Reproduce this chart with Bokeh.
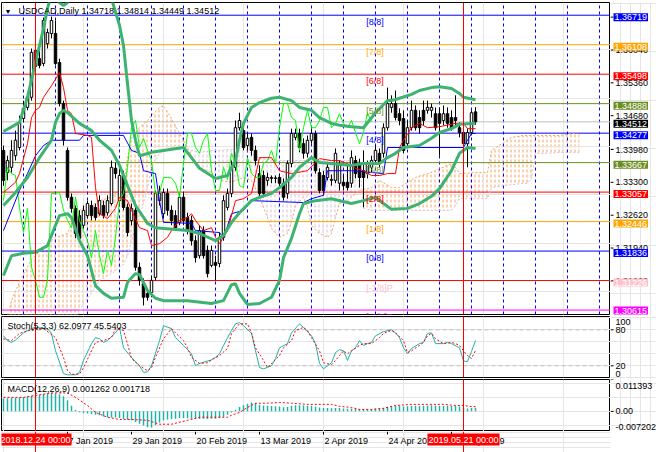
from bokeh.plotting import figure
from bokeh.layouts import column, row
from bokeh.models import Range1d, Span, Label, FixedTicker, Grid
from bokeh.embed import file_html
from bokeh.resources import INLINE

FONT = "Liberation Sans"
FS = "9px"

# ---------------- data ----------------
TITLE = "USDCAD,Daily  1.34718 1.34814 1.34449 1.34512"
STOCH_TITLE = "Stoch(5,3,3) 62.0977 45.5403"
MACD_TITLE = "MACD(12,26,9) 0.001262 0.001718"

opens = [1.3392,1.3346,1.3357,1.3381,1.3398,1.3458,1.3481,1.3502,1.3566,1.3582,
         1.3572,1.3613,1.3634,1.3634,1.3574,1.3489,1.3392,1.3295,1.3272,1.3257,
         1.3237,1.3257,1.3278,1.3274,1.3261,1.3278,1.3263,1.3282,1.3355,1.3288,
         1.3340,1.3274,1.3247,1.3268,1.3150,1.3116,1.3096,1.3098,1.3129,1.3288,
         1.3261,1.3303,1.3268,1.3257,1.3243,1.3295,1.3253,1.3247,1.3205,1.3174,
         1.3226,1.3185,1.3154,1.3160,1.3158,1.3212,1.3274,1.3303,1.3357,1.3439,
         1.3433,1.3402,1.3419,1.3392,1.3344,1.3340,1.3330,1.3334,1.3334,1.3336,
         1.3324,1.3303,1.3365,1.3419,1.3427,1.3406,1.3386,1.3413,1.3427,1.3346,
         1.3340,1.3336,1.3330,1.3330,1.3324,1.3326,1.3326,1.3324,1.3371,1.3365,
         1.3350,1.3344,1.3357,1.3371,1.3386,1.3386,1.3439,1.3481,1.3489,1.3468,
         1.3458,1.3406,1.3439,1.3475,1.3460,1.3475,1.3475,1.3475,1.3468,1.3468,
         1.3454,1.3468,1.3460,1.3460,1.3439,1.3429,1.3406,1.3429,1.34718]
highs = [1.3402,1.3381,1.3413,1.3433,1.3464,1.3495,1.3512,1.3603,1.3607,1.3599,
         1.3667,1.3644,1.3669,1.3661,1.3582,1.3495,1.3398,1.3303,1.3278,1.3268,
         1.3278,1.3288,1.3288,1.3282,1.3299,1.3288,1.3299,1.3371,1.3367,1.3355,
         1.3350,1.3282,1.3282,1.3278,1.3160,1.3127,1.3106,1.3133,1.3309,1.3319,
         1.3313,1.3313,1.3278,1.3268,1.3303,1.3305,1.3263,1.3257,1.3216,1.3237,
         1.3235,1.3195,1.3195,1.3174,1.3222,1.3299,1.3313,1.3371,1.3454,1.3470,
         1.3444,1.3427,1.3427,1.3402,1.3361,1.3350,1.3346,1.3340,1.3340,1.3344,
         1.3334,1.3371,1.3437,1.3437,1.3437,1.3417,1.3423,1.3437,1.3433,1.3355,
         1.3350,1.3367,1.3342,1.3396,1.3371,1.3340,1.3361,1.3392,1.3381,1.3375,
         1.3392,1.3371,1.3381,1.3402,1.3396,1.3448,1.3522,1.3506,1.3516,1.3479,
         1.3475,1.3454,1.3495,1.3485,1.3475,1.3495,1.3495,1.3489,1.3481,1.3481,
         1.3485,1.3481,1.3475,1.3506,1.3450,1.3439,1.3437,1.3475,1.34814]
lows = [1.3319,1.3330,1.3346,1.3371,1.3392,1.3450,1.3475,1.3495,1.3557,1.3562,
        1.3566,1.3603,1.3624,1.3568,1.3483,1.3402,1.3288,1.3263,1.3210,1.3201,
        1.3230,1.3251,1.3247,1.3247,1.3257,1.3251,1.3257,1.3278,1.3334,1.3278,
        1.3268,1.3214,1.3237,1.3143,1.3112,1.3071,1.3081,1.3088,1.3123,1.3278,
        1.3251,1.3257,1.3237,1.3226,1.3237,1.3237,1.3218,1.3195,1.3160,1.3168,
        1.3168,1.3129,1.3150,1.3123,1.3150,1.3205,1.3268,1.3295,1.3350,1.3433,
        1.3392,1.3392,1.3381,1.3361,1.3295,1.3295,1.3319,1.3324,1.3324,1.3315,
        1.3288,1.3292,1.3357,1.3413,1.3388,1.3375,1.3377,1.3406,1.3344,1.3303,
        1.3299,1.3330,1.3319,1.3324,1.3309,1.3309,1.3309,1.3315,1.3334,1.3315,
        1.3274,1.3334,1.3346,1.3365,1.3357,1.3377,1.3433,1.3470,1.3454,1.3444,
        1.3386,1.3398,1.3433,1.3433,1.3427,1.3444,1.3468,1.3460,1.3433,1.3381,
        1.3444,1.3439,1.3433,1.3444,1.3419,1.3400,1.3357,1.3423,1.34449]
closes = [1.3330,1.3371,1.3392,1.3413,1.3450,1.3479,1.3502,1.3595,1.3599,1.3568,
          1.3661,1.3636,1.3661,1.3572,1.3489,1.3413,1.3295,1.3272,1.3220,1.3210,
          1.3268,1.3282,1.3257,1.3253,1.3288,1.3257,1.3288,1.3357,1.3344,1.3340,
          1.3274,1.3222,1.3272,1.3150,1.3123,1.3088,1.3088,1.3123,1.3303,1.3303,
          1.3305,1.3268,1.3247,1.3232,1.3295,1.3247,1.3226,1.3205,1.3170,1.3226,
          1.3174,1.3137,1.3185,1.3154,1.3212,1.3288,1.3303,1.3357,1.3439,1.3454,
          1.3398,1.3417,1.3392,1.3371,1.3303,1.3303,1.3336,1.3336,1.3335,1.3324,
          1.3295,1.3365,1.3427,1.3427,1.3398,1.3386,1.3413,1.3427,1.3350,1.3309,
          1.3309,1.3357,1.3332,1.3386,1.3365,1.3319,1.3315,1.3377,1.3344,1.3336,
          1.3336,1.3365,1.3371,1.3392,1.3365,1.3439,1.3489,1.3489,1.3460,1.3454,
          1.3392,1.3439,1.3475,1.3439,1.3439,1.3454,1.3481,1.3481,1.3439,1.3448,
          1.3468,1.3448,1.3439,1.3454,1.3429,1.3406,1.3429,1.3470,1.34512]

# Bollinger bands (read at selected bars)
bb_up_idx = [0,4,6,8,10,11,12,14,15,16,18,22,25,27,29,30,31,32,33,34,37,45,47,49,53,56,58,59,60,62,
             64,67,69,72,74,77,79,82,84,87,90,93,95,96,98,99,102,104,107,109,112,114,115,118]
bb_up = [1.3431,1.3450,1.3502,1.3574,1.3644,1.3686,1.3715,1.3698,1.3692,1.3698,1.3727,1.3744,1.3727,1.3706,
         1.3651,1.3609,1.3530,1.3454,1.3413,1.3381,1.3388,1.3398,1.3377,1.3355,1.3334,1.3340,1.3371,1.3413,
         1.3448,1.3481,1.3491,1.3500,1.3502,1.3495,1.3481,1.3475,1.3460,1.3448,1.3444,1.3441,1.3439,1.3470,
         1.3487,1.3495,1.3497,1.3500,1.3508,1.3516,1.3522,1.3524,1.3520,1.3510,1.3502,1.3497]
bb_mid_idx = [0,3,6,9,12,13,14,15,16,19,22,24,27,29,31,33,36,38,46,49,53,55,57,59,62,64,67,69,72,74,
              77,79,82,87,90,94,96,98,100,104,107,109,112,114,118]
bb_mid = [1.3278,1.3305,1.3336,1.3377,1.3413,1.3450,1.3468,1.3475,1.3470,1.3448,1.3433,1.3413,1.3392,1.3361,
          1.3319,1.3278,1.3241,1.3232,1.3226,1.3220,1.3205,1.3216,1.3243,1.3263,1.3288,1.3295,1.3303,1.3315,
          1.3336,1.3357,1.3377,1.3367,1.3365,1.3361,1.3365,1.3365,1.3377,1.3386,1.3398,1.3402,1.3417,1.3429,
          1.3437,1.3446,1.3448]
bb_low_idx = [0,2,5,8,11,13,14,16,17,19,21,23,25,27,30,31,33,34,36,38,40,46,52,55,57,58,59,61,64,67,
              69,70,72,74,75,78,82,87,90,93,95,97,101,104,107,109,112,114,116,118]
bb_low = [1.3133,1.3174,1.3179,1.3181,1.3195,1.3237,1.3257,1.3261,1.3253,1.3205,1.3174,1.3112,1.3096,1.3086,
          1.3088,1.3119,1.3137,1.3135,1.3102,1.3086,1.3081,1.3081,1.3075,1.3081,1.3114,1.3116,1.3096,1.3073,
          1.3075,1.3088,1.3123,1.3170,1.3210,1.3261,1.3282,1.3288,1.3292,1.3282,1.3288,1.3295,1.3282,1.3270,
          1.3272,1.3282,1.3297,1.3313,1.3350,1.3386,1.3398,1.3396]

# Ichimoku
tenkan_idx = [0,3,4,6,7,8,9,10,12,14,15,16,17,18,21,22,23,24,26,28,29,31,32,34,36,37,39,41,42,44,46,47,48,
              50,52,53,54,56,58,60,62,64,67,69,72,76,79,82,84,87,88,90,92,94,96,98,99,100,102,104,106,109,
              113,115,116,118]
tenkan = [1.3305,1.3326,1.3344,1.3406,1.3460,1.3475,1.3481,1.3502,1.3526,1.3553,1.3522,1.3475,1.3468,1.3427,
          1.3423,1.3419,1.3315,1.3261,1.3251,1.3272,1.3295,1.3288,1.3268,1.3232,1.3226,1.3195,1.3199,1.3212,
          1.3226,1.3247,1.3253,1.3261,1.3247,1.3226,1.3232,1.3212,1.3199,1.3226,1.3288,1.3292,1.3303,1.3377,
          1.3377,1.3350,1.3344,1.3350,1.3375,1.3371,1.3371,1.3361,1.3355,1.3350,1.3340,1.3340,1.3344,1.3344,
          1.3398,1.3413,1.3439,1.3448,1.3439,1.3441,1.3448,1.3448,1.3437,1.3437]
kijun_idx = [0,4,6,8,10,12,19,20,30,32,34,35,38,39,40,47,48,54,55,57,60,62,75,77,80,81,87,95,96,115,116,117,118]
kijun = [1.3226,1.3309,1.3344,1.3381,1.3402,1.3413,1.3413,1.3423,1.3423,1.3392,1.3386,1.3350,1.3344,1.3288,
         1.3243,1.3241,1.3226,1.3222,1.3210,1.3261,1.3268,1.3288,1.3284,1.3292,1.3299,1.3350,1.3350,1.3344,
         1.3398,1.3398,1.3413,1.3427,1.3427]
CHIKOU_SHIFT = 26
cloud_idx = [0,2,4,7,10,13,16,18,20,22,24,27,30,31,32,34,36,37,39,40,42,44,46,47,49,52,54,57,60,62,64,66,67,
             69,71,72,73,75,76,77,79,81,82,83,84,86,87,89,90,92,94,97,99,101,103,106,108,112,113,114,118,121,
             122,125,127,130,131,132,133,136,139,144]
span_a = [1.3019,1.3081,1.3120,1.3166,1.3191,1.3212,1.3220,1.3261,1.3274,1.3278,1.3288,1.3295,1.3319,1.3377,
          1.3417,1.3439,1.3454,1.3464,1.3481,1.3485,1.3458,1.3427,1.3398,1.3381,1.3357,1.3346,1.3330,1.3326,
          1.3336,1.3330,1.3295,1.3253,1.3230,1.3212,1.3220,1.3243,1.3278,1.3295,1.3274,1.3237,1.3220,1.3212,
          1.3220,1.3253,1.3282,1.3288,1.3295,1.3309,1.3311,1.3315,1.3330,1.3315,1.3315,1.3326,1.3336,1.3344,
          1.3350,1.3365,1.3357,1.3344,1.3346,1.3346,1.3392,1.3408,1.3419,1.3423,1.3423,1.3423,1.3423,1.3423,
          1.3423,1.3429]
span_b = [1.3009,1.3013,1.3017,1.3023,1.3027,1.3032,1.3036,1.3040,1.3077,1.3096,1.3123,1.3137,1.3156,1.3174,
          1.3205,1.3253,1.3315,1.3357,1.3386,1.3390,1.3398,1.3396,1.3394,1.3392,1.3388,1.3392,1.3392,1.3394,
          1.3396,1.3386,1.3375,1.3373,1.3373,1.3371,1.3371,1.3371,1.3371,1.3371,1.3371,1.3371,1.3371,1.3371,
          1.3371,1.3371,1.3371,1.3371,1.3371,1.3371,1.3272,1.3268,1.3268,1.3268,1.3268,1.3268,1.3268,1.3268,
          1.3268,1.3268,1.3278,1.3292,1.3292,1.3292,1.3315,1.3319,1.3321,1.3324,1.3324,1.3334,1.3386,1.3386,
          1.3388,1.3388]

# Murrey math levels
mm_levels = [1.36719,1.36108,1.35498,1.34888,1.34277,1.33667,1.33057,1.32446,1.31836,1.31226,1.30615]
mm_names = ["[8/8]","[7/8]","[6/8]","[5/8]","[4/8]","[3/8]","[2/8]","[1/8]","[0/8]","[-1/8]P","[-2/8]P"]
mm_line_colors = ["#0000FF","#FFA500","#FF0000","#6B8E23","#0000FF","#6B8E23","#FF0000","#FFA500","#0000FF","#FF0000","#FF00FF"]
mm_text_colors = ["#0000FF","#FFA500","#FF0000","#6B8E23","#0000FF","#6B8E23","#FF0000","#FFA500","#0000FF","#FFC0CB","#FF00FF"]
last_price = 1.34512
price_ticks = [1.36720,1.36040,1.35360,1.34680,1.33980,1.33300,1.32620,1.31940,1.31260]

# Stochastic
stoch_k_idx = [0,1,2,3,5,7,8,11,12,13,15,16,18,19,20,22,23,24,25,26,28,29,30,32,34,35,36,37,39,40,42,43,45,
               47,48,49,50,52,53,54,55,57,58,59,60,62,63,64,65,67,68,69,71,72,74,75,77,78,79,80,82,83,84,85,
               86,87,88,89,90,91,92,93,95,97,98,99,100,101,102,104,105,106,107,108,110,111,112,114,115,116,117,118]
stoch_k = [70,62,59,63,75,82,84,82,74,45,7,5,5,9,29,57,67,65,59,62,75,84,50,34,20,9,10,20,62,87,82,67,54,
           40,20,24,26,30,34,40,54,79,90,92,87,74,45,17,15,20,32,50,57,75,90,84,70,57,24,15,25,42,47,45,
           29,45,50,62,54,57,59,70,77,80,75,67,50,40,49,57,59,74,75,57,57,59,57,50,28,27,44,62.0977]
stoch_d_idx = [0,2,4,7,10,13,15,16,17,19,20,22,23,25,27,28,30,31,32,34,36,37,38,40,42,43,45,46,47,49,51,52,
               54,56,57,59,61,62,63,65,66,67,69,70,72,73,75,76,77,79,80,82,83,84,85,86,87,89,90,92,94,95,97,
               98,100,101,102,104,105,106,107,108,110,112,113,114,115,116,117,118]
stoch_d = [65,62,74,80,82,67,34,12,6,6,17,45,59,62,67,82,79,57,32,20,12,17,34,65,82,75,62,50,34,24,25,30,
           37,49,74,90,90,75,50,29,17,24,37,50,62,79,84,79,67,45,25,22,29,37,45,40,45,54,57,57,67,74,79,
           75,62,42,45,54,59,70,74,65,57,59,57,54,45,37,32,45.5403]
stoch_levels = [20, 80]
stoch_limits = [0, 100]

# MACD
macd_main = [0.0046,0.0047,0.0048,0.0048,0.0050,
             0.0051,0.0053,0.0056,0.0058,0.0059,0.0062,
             0.0064,0.0066,0.0065,0.0061,0.0054,
             0.0040,0.0020,0.0005,-0.0003,-0.0006,-0.0008,-0.0010,-0.0012,-0.0014,
             -0.0018,-0.0021,-0.0022,-0.0022,-0.0024,-0.0027,-0.0030,-0.0032,-0.0038,-0.0044,-0.0051,-0.0057,
             -0.0058,-0.0050,-0.0040,-0.0032,
             -0.0029,-0.0027,-0.0026,-0.0024,-0.0024,-0.0025,-0.0026,-0.0027,-0.0027,-0.0026,-0.0027,-0.0026,
             -0.0026,-0.0024,-0.0019,-0.0012,-0.0004,
             0.0006,0.0016,0.0022,0.0027,0.0032,0.0030,0.0024,0.0021,0.0020,0.0019,0.0018,0.0017,0.0015,
             0.0016,0.0020,0.0022,0.0022,0.0021,0.0020,0.0020,
             0.0017,0.0014,0.0012,0.0012,0.0011,0.0012,0.0012,0.0010,0.0009,0.0010,0.0009,0.0008,0.0007,
             0.0007,0.0008,0.0009,0.0009,
             0.0012,0.0016,0.0019,0.0020,0.0020,0.0017,0.0018,0.0020,0.0020,0.0019,0.0020,0.0021,0.0022,
             0.0021,0.0020,0.0020,0.0020,0.0019,0.0019,0.0017,0.0013,0.0010,0.0012,0.001262]
macd_sig_idx = [0,5,8,12,16,18,21,23,26,29,32,36,39,42,46,49,52,56,57,59,61,63,66,69,72,76,82,84,87,89,92,
                95,97,98,102,106,110,113,115,117,118]
macd_sig = [0.0050,0.0050,0.0057,0.0066,0.0066,0.0050,0.0021,-0.0004,-0.0021,-0.0029,-0.0029,-0.0032,-0.0046,
            -0.0046,-0.0032,-0.0021,-0.0021,-0.0021,-0.0014,-0.0004,0.0014,0.0029,0.0029,0.0032,0.0029,0.0025,
            0.0025,0.0018,0.0014,0.0007,0.0007,0.0011,0.0018,0.0021,0.0025,0.0025,0.0025,0.0021,0.0021,0.0017,
            0.001718]
macd_max, macd_min = 0.011393, -0.007202

# time axis
date_ticks = [16, 32, 48, 64, 80, 96, 112]
date_labels = ["7 Jan 2019", "29 Jan 2019", "20 Feb 2019", "13 Mar 2019", "2 Apr 2019", "24 Apr 2019", "16 May 2019"]
cursor_bars = [8, 115]
cursor_labels = ["2018.12.24 00:00", "2019.05.21 00:00"]

# ---------------- layout helpers ----------------
FRAME_W = 609
AX_W = 46
X_RANGE = (-0.5, 151.75)
GRID_TICKS = list(range(5, 152, 8))


def make_fig(h, yr, top, bottom):
    p = figure(frame_width=FRAME_W, frame_height=h, title=None,
               x_range=Range1d(*X_RANGE), y_range=Range1d(*yr),
               output_backend="svg", toolbar_location=None,
               x_axis_location=None, y_axis_location=None,
               min_border_left=1, min_border_right=0, min_border_top=top, min_border_bottom=bottom,
               background_fill_color="white", border_fill_color="white")
    p.outline_line_color = "black"
    p.outline_line_width = 1
    for b in cursor_bars:
        p.add_layout(Span(location=b, dimension="height", line_color="red", line_width=1))
    return p


def make_axis_fig(h, yr, top, bottom):
    # narrow panel at the right of a chart, same value scale, used as the value axis
    lo, hi = yr
    per_px = (hi - lo) / h
    p = figure(frame_width=AX_W, frame_height=h + top + bottom, title=None,
               x_range=Range1d(0, AX_W), y_range=Range1d(lo - bottom * per_px, hi + top * per_px),
               output_backend="svg", toolbar_location=None,
               x_axis_location=None, y_axis_location=None,
               min_border_left=0, min_border_right=0, min_border_top=0, min_border_bottom=0,
               background_fill_color="white", border_fill_color="white")
    p.outline_line_color = None
    return p


def txt(p, x, y, text, color="black", xu="data", yu="data", size=FS, **kw):
    p.add_layout(Label(x=x, y=y, x_units=xu, y_units=yu, text=text, text_color=color,
                       text_font=FONT, text_font_size=size, **kw))

# ---------------- main chart ----------------
MAIN_H = 312
MAIN_Y = (1.30523, 1.36982)
pm = make_fig(MAIN_H, MAIN_Y, top=2, bottom=2)
pm.add_layout(Grid(dimension=0, ticker=FixedTicker(ticks=GRID_TICKS), grid_line_color="#0000FF",
                   grid_line_dash="3 3", grid_line_width=1, level="underlay"))

# cloud (hatched between span A and span B, coloured by which span is on top)
polys = {True: ([], []), False: ([], [])}
sx, sa, sb = [cloud_idx[0]], [span_a[0]], [span_b[0]]
cur = span_a[0] >= span_b[0]
for k in range(1, len(cloud_idx)):
    up = span_a[k] >= span_b[k]
    if up != cur:
        d0 = span_a[k - 1] - span_b[k - 1]
        d1 = span_a[k] - span_b[k]
        t = d0 / (d0 - d1)
        xc = cloud_idx[k - 1] + t * (cloud_idx[k] - cloud_idx[k - 1])
        yc = span_a[k - 1] + t * (span_a[k] - span_a[k - 1])
        sx.append(xc); sa.append(yc); sb.append(yc)
        polys[cur][0].append(sx + sx[::-1]); polys[cur][1].append(sa + sb[::-1])
        sx, sa, sb = [xc], [yc], [yc]
        cur = up
    sx.append(cloud_idx[k]); sa.append(span_a[k]); sb.append(span_b[k])
polys[cur][0].append(sx + sx[::-1]); polys[cur][1].append(sa + sb[::-1])
for bull, col in ((True, "#F4A460"), (False, "#D8BFD8")):
    if polys[bull][0]:
        pm.patches(polys[bull][0], polys[bull][1], fill_alpha=0, line_alpha=0, level="underlay",
                   hatch_pattern="vertical_line", hatch_color=col, hatch_scale=4, hatch_weight=1)
# break the hatch lines into dashes
pm.patches(polys[True][0] + polys[False][0], polys[True][1] + polys[False][1], fill_alpha=0, line_alpha=0,
           level="underlay", hatch_pattern="horizontal_line", hatch_color="white", hatch_scale=5, hatch_weight=2)
pm.line(cloud_idx, span_a, line_color="#F4A460", line_dash="2 2", line_width=1)
pm.line(cloud_idx, span_b, line_color="#D8BFD8", line_dash="2 2", line_width=1)

# Murrey lines and current price line
for lvl, col in zip(mm_levels, mm_line_colors):
    pm.add_layout(Span(location=lvl, dimension="width", line_color=col, line_width=1, level="underlay"))
pm.add_layout(Span(location=last_price, dimension="width", line_color="#C0C0C0", line_width=1, level="underlay"))

# candles
idx = list(range(len(closes)))
body_top = [max(o, c) for o, c in zip(opens, closes)]
body_bot = [min(o, c) for o, c in zip(opens, closes)]
body_col = ["white" if c >= o else "black" for o, c in zip(opens, closes)]
pm.segment(idx, lows, idx, highs, line_color="black", line_width=1)
pm.vbar(x=idx, top=body_top, bottom=body_bot, width=0.62, fill_color=body_col, line_color="black", line_width=1)

# indicators
pm.line(idx[:-CHIKOU_SHIFT], closes[CHIKOU_SHIFT:], line_color="#00FF00", line_width=1)
pm.line(kijun_idx, kijun, line_color="#0000FF", line_width=1)
pm.line(tenkan_idx, tenkan, line_color="#FF0000", line_width=1)
for xs, ys in ((bb_up_idx, bb_up), (bb_mid_idx, bb_mid), (bb_low_idx, bb_low)):
    pm.line(xs, ys, line_color="#3CB371", line_width=3)

# Murrey level names
for lvl, name, col in zip(mm_levels, mm_names, mm_text_colors):
    txt(pm, 90.7, lvl, name, color=col, text_baseline="top", y_offset=-2)

# title
txt(pm, 3, MAIN_H - 8.5, "\u25BC", xu="screen", yu="screen", size="7px", text_baseline="middle")
txt(pm, 17, MAIN_H - 8.5, TITLE, xu="screen", yu="screen", text_baseline="middle")

# price axis panel
pma = make_axis_fig(MAIN_H, MAIN_Y, top=2, bottom=2)
pma.segment([0] * len(price_ticks), price_ticks, [3] * len(price_ticks), price_ticks, line_color="black")
for t in price_ticks:
    txt(pma, 5, t, "%.5f" % t, text_baseline="middle")
lowest = min(mm_levels)
for lvl, col in list(zip(mm_levels, mm_text_colors)) + [(last_price, "black")]:
    txt(pma, 3, lvl, "%.5f" % lvl, color="white", text_baseline="middle",
        background_fill_color=col, padding=1, y_offset=1.5 if lvl == lowest else 0)

# ---------------- stochastic ----------------
STOCH_H = 61
STOCH_Y = (0.5, 102.2)
ps = make_fig(STOCH_H, STOCH_Y, top=0, bottom=2)
for lv in stoch_levels:
    ps.add_layout(Span(location=lv, dimension="width", line_color="#C0C0C0", line_dash="4 3", line_width=1,
                       level="underlay"))
ps.line(stoch_k_idx, stoch_k, line_color="#20B2AA", line_width=1)
ps.line(stoch_d_idx, stoch_d, line_color="#FF0000", line_dash="2 2", line_width=1)
txt(ps, 6, STOCH_H - 9.7, STOCH_TITLE, xu="screen", yu="screen", text_baseline="middle")

psa = make_axis_fig(STOCH_H, STOCH_Y, top=0, bottom=2)
psa.segment([0, 0], stoch_levels, [3, 3], stoch_levels, line_color="black")
for lv in stoch_levels:
    txt(psa, 5, lv, str(lv), text_baseline="middle")
txt(psa, 5, stoch_limits[1], str(stoch_limits[1]), text_baseline="top", y_offset=-1)
txt(psa, 5, stoch_limits[0], str(stoch_limits[0]), text_baseline="bottom", y_offset=1)

# ---------------- MACD ----------------
MACD_H = 52
MACD_Y = (macd_min, macd_max)
pc = make_fig(MACD_H, MACD_Y, top=0, bottom=0)
pc.segment(idx, 0, idx, macd_main, line_color="#20B2AA", line_width=1.5)
pc.line(macd_sig_idx, macd_sig, line_color="#FF0000", line_dash="2 2", line_width=1)
txt(pc, 6, MACD_H - 9.3, MACD_TITLE, xu="screen", yu="screen", text_baseline="middle")

pca = make_axis_fig(MACD_H, MACD_Y, top=0, bottom=0)
pca.segment([0, 0, 0], [macd_max, 0, macd_min], [3, 3, 3], [macd_max, 0, macd_min], line_color="black")
txt(pca, 5, macd_max, "%.6f" % macd_max, text_baseline="top", y_offset=-3)
txt(pca, 5, 0, "0.00", text_baseline="middle")
txt(pca, 5, macd_min, "%.6f" % macd_min, text_baseline="bottom", y_offset=2)

# ---------------- date strip ----------------
DATE_H = 21
pd_ = figure(frame_width=FRAME_W, frame_height=DATE_H, title=None,
             x_range=pc.x_range, y_range=Range1d(0, DATE_H),
             output_backend="svg", toolbar_location=None,
             x_axis_location=None, y_axis_location=None,
             min_border_left=1, min_border_right=AX_W, min_border_top=0, min_border_bottom=0,
             background_fill_color="white", border_fill_color="white")
pd_.outline_line_color = None
for b in cursor_bars:
    pd_.add_layout(Span(location=b, dimension="height", line_color="red", line_width=1))
pd_.segment(date_ticks, [DATE_H] * len(date_ticks), date_ticks, [DATE_H - 3] * len(date_ticks), line_color="black")
for t, lab in zip(date_ticks, date_labels):
    txt(pd_, t, DATE_H - 9, lab, text_align="left", text_baseline="middle", x_offset=1)
for b, lab in zip(cursor_bars, cursor_labels):
    txt(pd_, b, DATE_H - 8, lab, color="white", text_align="center", text_baseline="middle",
        background_fill_color="#FF0000", padding=1)

layout = column(row(pm, pma), row(ps, psa), row(pc, pca), pd_)
open("out.html", "w").write(file_html(layout, INLINE))
